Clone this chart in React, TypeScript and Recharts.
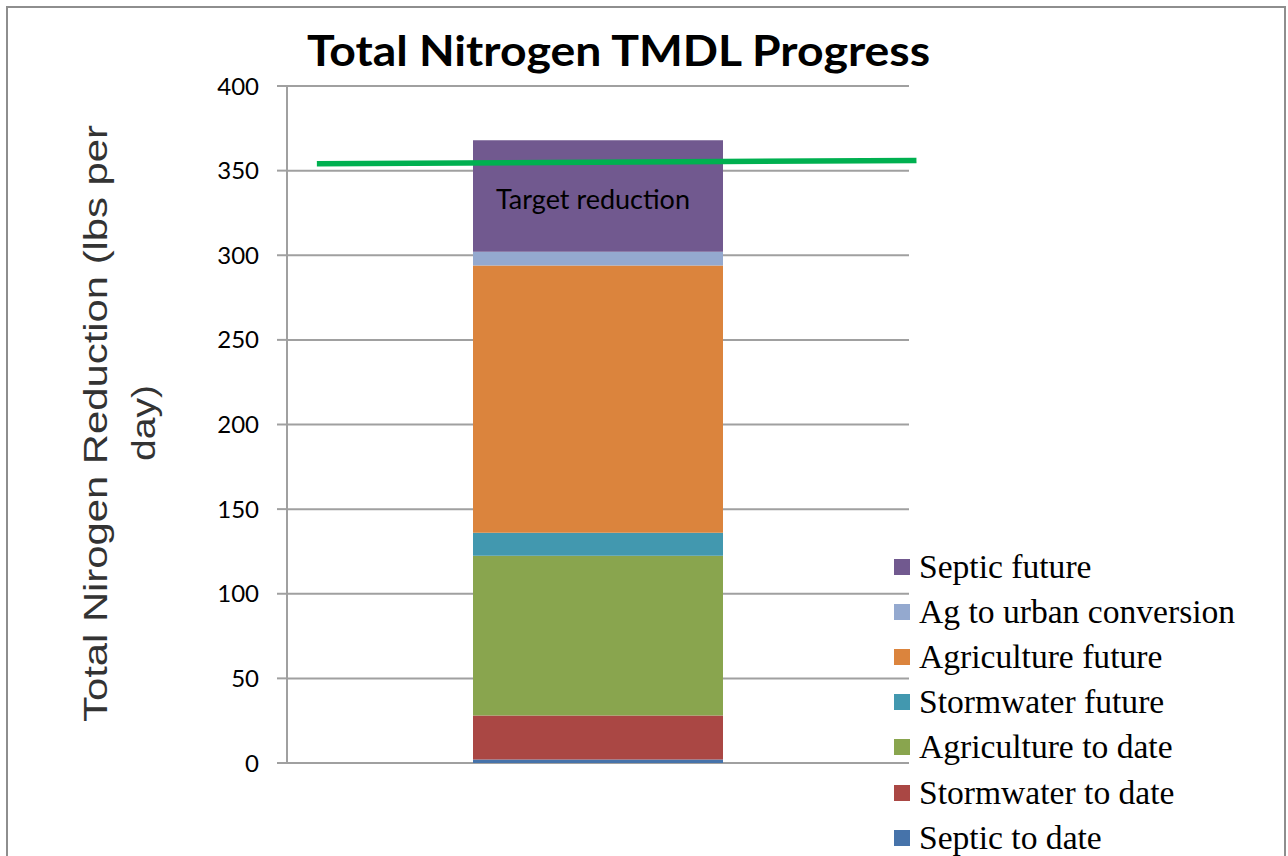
import React from 'react';
import { ComposedChart, Bar, XAxis, YAxis, CartesianGrid, ReferenceLine, LabelList } from 'recharts';

const categories = ['Total Nitrogen'];
// bar position on a 0..1 horizontal scale
const categoryPos = [0.5];
const seriesNames = [
  'Septic to date',
  'Stormwater to date',
  'Agriculture to date',
  'Stormwater future',
  'Agriculture future',
  'Ag to urban conversion',
  'Septic future',
];
const seriesValues = [2, 26, 94.5, 13.5, 158, 8, 66];
const seriesColors = ['#4673AA', '#AA4744', '#89A54E', '#4298AF', '#DB843D', '#94A9CF', '#71598F'];
const yTicks = [0, 50, 100, 150, 200, 250, 300, 350, 400];
// target reduction line, on the same 0..1 horizontal scale
const targetX = [0.048, 1.012];
const targetY = [354, 356];

const data = categories.map((name, k) => {
  const row: Record<string, string | number> = { name, pos: categoryPos[k] };
  seriesNames.forEach((s, i) => {
    row[s] = seriesValues[i];
  });
  return row;
});

const LegendBox: React.FC = () => {
  const items = seriesNames.map((n, i) => ({ n, c: seriesColors[i] })).reverse();
  return (
    <div style={{ position: 'absolute', left: 894, top: 544, fontFamily: "'Liberation Serif', 'Times New Roman', serif", fontSize: 33.6, color: '#000' }}>
      {items.map((it) => (
        <div key={it.n} style={{ display: 'flex', alignItems: 'center', height: 45.2, whiteSpace: 'nowrap' }}>
          <span style={{ width: 16, height: 16, background: it.c, marginRight: 9, display: 'inline-block' }} />
          <span>{it.n}</span>
        </div>
      ))}
    </div>
  );
};

export default function App() {
  return (
    <div style={{ position: 'absolute', left: 0, top: 0, width: 1288, height: 856, overflow: 'hidden', background: '#fff' }}>
      <div style={{ position: 'absolute', left: 6, top: 6, width: 1280, height: 900, border: '2px solid #8e8e8e', boxSizing: 'border-box' }} />
      <ComposedChart width={1288} height={856} data={data} margin={{ top: 86, right: 379, bottom: 93, left: 227 }}>
        <CartesianGrid vertical={false} stroke="#a0a0a0" strokeWidth={2} />
        <XAxis dataKey="pos" type="number" domain={[0, 1]} allowDataOverflow hide />
        <YAxis
          width={60}
          domain={[0, 400]}
          ticks={yTicks}
          interval={0}
          tickSize={10}
          tickMargin={18}
          axisLine={{ stroke: '#a0a0a0', strokeWidth: 2 }}
          tickLine={{ stroke: '#a0a0a0', strokeWidth: 2 }}
          tick={{ fill: '#000', fontSize: 24, fontFamily: 'Lato, sans-serif' }}
        />
        {seriesNames.map((s, i) => (
          <Bar key={s} dataKey={s} stackId="a" fill={seriesColors[i]} barSize={250} isAnimationActive={false}>
            {i === seriesNames.length - 1 && (
              <LabelList
                dataKey={s}
                position="center"
                formatter={() => 'Target reduction'}
                dx={-5}
                dy={3}
                style={{ fill: '#000', fontSize: 27, fontFamily: 'Lato, sans-serif' }}
              />
            )}
          </Bar>
        ))}
        <ReferenceLine
          segment={[
            { x: targetX[0], y: targetY[0] },
            { x: targetX[1], y: targetY[1] },
          ]}
          stroke="#00B050"
          strokeWidth={5.5}
          ifOverflow="visible"
        />
      </ComposedChart>
      <svg width={1288} height={856} style={{ position: 'absolute', left: 0, top: 0, pointerEvents: 'none' }}>
        <text x={618.5} y={66} textAnchor="middle" fontFamily="Lato, sans-serif" fontWeight={700} fontSize={42} fill="#000" textLength={623} lengthAdjust="spacingAndGlyphs">
          Total Nitrogen TMDL Progress
        </text>
        <text x={107} y={423.5} transform="rotate(-90 107 423.5)" textAnchor="middle" fontFamily="'Liberation Sans', Arial, sans-serif" fontSize={34} fill="#333" textLength={597} lengthAdjust="spacingAndGlyphs">
          Total Nirogen Reduction (lbs per
        </text>
        <text x={155} y={423} transform="rotate(-90 155 423)" textAnchor="middle" fontFamily="'Liberation Sans', Arial, sans-serif" fontSize={34} fill="#333" textLength={76} lengthAdjust="spacingAndGlyphs">
          day)
        </text>
      </svg>
      <LegendBox />
    </div>
  );
}
